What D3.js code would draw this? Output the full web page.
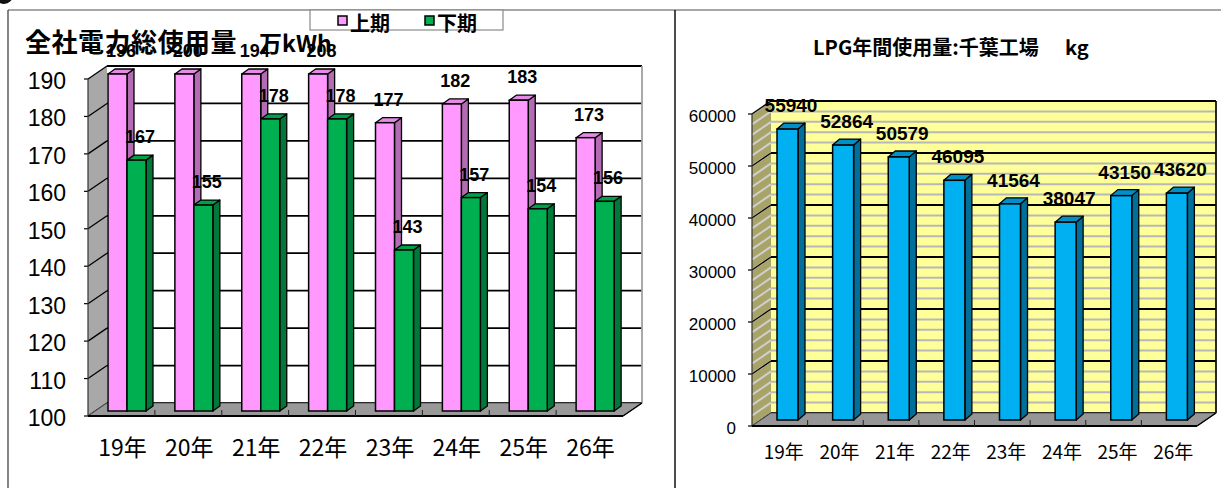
<!DOCTYPE html>
<html>
<head>
<meta charset="utf-8">
<script src="https://cdn.jsdelivr.net/npm/d3@7"></script>
<style>
  html, body { margin: 0; padding: 0; background: #fff; }
  svg { display: block; }
</style>
</head>
<body>
<svg id="chart" width="1221" height="488"></svg>
<script>
// ---- data ----
const years = ["19年", "20年", "21年", "22年", "23年", "24年", "25年", "26年"];
const powerFirstHalf = [196, 200, 194, 208, 177, 182, 183, 173];   // 上期
const powerSecondHalf = [167, 155, 178, 178, 143, 157, 154, 156];  // 下期
const powerTicks = [100, 110, 120, 130, 140, 150, 160, 170, 180, 190];
const lpgUsage = [55940, 52864, 50579, 46095, 41564, 38047, 43150, 43620];
const lpgTicks = [0, 10000, 20000, 30000, 40000, 50000, 60000];
const lpgMinorTicks = d3.range(0, 60001, 2000);

const svg = d3.select("#chart");
const CJK = "'Noto Sans CJK JP', 'Noto Sans', sans-serif";
const LAT = "'Liberation Sans', Arial, sans-serif";

// ---- frame ----
svg.append("circle").attr("cx", 4).attr("cy", -5).attr("r", 9).attr("fill", "#111");
svg.append("line").attr("x1", 8).attr("x2", 1221).attr("y1", 10).attr("y2", 10)
  .attr("stroke", "#8a8a8a").attr("stroke-width", 1.5);
svg.append("line").attr("x1", 8).attr("x2", 8).attr("y1", 10).attr("y2", 488)
  .attr("stroke", "#333").attr("stroke-width", 1.2);
svg.append("line").attr("x1", 675).attr("x2", 675).attr("y1", 10).attr("y2", 488)
  .attr("stroke", "#111").attr("stroke-width", 1.5);

// draws one 3D column: front face, right side, top
function column(g, x, yTop, yBot, w, dx, dy, c) {
  const pts = a => a.map(p => p.join(",")).join(" ");
  g.append("polygon")
    .attr("points", pts([[x + w, yTop], [x + w + dx, yTop + dy], [x + w + dx, yBot + dy], [x + w, yBot]]))
    .attr("fill", c.side).attr("stroke", "#000").attr("stroke-width", 1.3).attr("stroke-linejoin", "round");
  g.append("polygon")
    .attr("points", pts([[x, yTop], [x + dx, yTop + dy], [x + w + dx, yTop + dy], [x + w, yTop]]))
    .attr("fill", c.top).attr("stroke", "#000").attr("stroke-width", 1.3).attr("stroke-linejoin", "round");
  g.append("rect").attr("x", x).attr("y", yTop).attr("width", w).attr("height", yBot - yTop)
    .attr("fill", c.front).attr("stroke", "#000").attr("stroke-width", 1.5);
}

// draws walls, floor, gridlines and tick labels of a 3D plot
function plotFrame(g, o) {
  const { x, y, ticks, minor, dx, dy, wallBack, wallSide, sideStripe, floor, gridColor, minorColor, edgeColor, labelSize, labelRight } = o;
  const [xl, xr] = x.range();
  const [yb, yt] = y.range();
  // back wall
  g.append("rect").attr("x", xl + dx).attr("y", yt + dy).attr("width", xr - xl).attr("height", yb - yt)
    .attr("fill", wallBack);
  // side wall
  g.append("polygon")
    .attr("points", [[xl, yt], [xl + dx, yt + dy], [xl + dx, yb + dy], [xl, yb]].map(p => p.join(",")).join(" "))
    .attr("fill", wallSide);
  if (minor) {
    minor.forEach(v => {
      const yy = y(v);
      g.append("line").attr("x1", xl + dx).attr("x2", xr + dx).attr("y1", yy + dy).attr("y2", yy + dy)
        .attr("stroke", minorColor).attr("stroke-width", 2);
      g.append("line").attr("x1", xl).attr("x2", xl + dx).attr("y1", yy).attr("y2", yy + dy)
        .attr("stroke", sideStripe).attr("stroke-width", 2);
    });
  }
  ticks.forEach(v => {
    const yy = y(v);
    g.append("line").attr("x1", xl + dx).attr("x2", xr + dx).attr("y1", yy + dy).attr("y2", yy + dy)
      .attr("stroke", gridColor).attr("stroke-width", 1.8);
    g.append("line").attr("x1", xl).attr("x2", xl + dx).attr("y1", yy).attr("y2", yy + dy)
      .attr("stroke", gridColor).attr("stroke-width", 1.3);
    g.append("line").attr("x1", xl - 4).attr("x2", xl).attr("y1", yy).attr("y2", yy)
      .attr("stroke", "#000").attr("stroke-width", 1.2);
    g.append("text").attr("x", labelRight).attr("y", yy + 2)
      .attr("text-anchor", "end").attr("dominant-baseline", "central")
      .attr("font-family", LAT).attr("font-size", labelSize).attr("fill", "#000")
      .text(v);
  });
  // wall edges
  g.append("line").attr("x1", xr + dx).attr("x2", xr + dx).attr("y1", yt + dy).attr("y2", yb + dy)
    .attr("stroke", edgeColor).attr("stroke-width", 1.8);
  g.append("line").attr("x1", xl).attr("x2", xl).attr("y1", yt).attr("y2", yb)
    .attr("stroke", "#333").attr("stroke-width", 1.2);
  // floor
  g.append("polygon")
    .attr("points", [[xl, yb], [xl + dx, yb + dy], [xr + dx, yb + dy], [xr, yb]].map(p => p.join(",")).join(" "))
    .attr("fill", floor).attr("stroke", "#555").attr("stroke-width", 1);
  g.append("line").attr("x1", xr).attr("x2", xr + dx).attr("y1", yb).attr("y2", yb + dy)
    .attr("stroke", "#000").attr("stroke-width", 1.5);
  g.append("line").attr("x1", xl).attr("x2", xr).attr("y1", yb).attr("y2", yb)
    .attr("stroke", "#000").attr("stroke-width", 2.2);
  x.domain().forEach((d, i) => {
    if (i === 0) return;
    const xx = x(d);
    g.append("line").attr("x1", xx).attr("x2", xx).attr("y1", yb - 6).attr("y2", yb)
      .attr("stroke", "#222").attr("stroke-width", 1);
  });
}

// ================= left: 全社電力総使用量 =================
const gL = svg.append("g");
const xL = d3.scaleBand().domain(years).range([88, 623]);
const yL = d3.scaleLinear().domain([100, 190]).range([416, 79]).clamp(true);

plotFrame(gL, {
  x: xL, y: yL, ticks: powerTicks, minor: null, dx: 19, dy: -13,
  wallBack: "#ffffff", wallSide: "#a8a8a8", floor: "#999999",
  gridColor: "#000", edgeColor: "#a0a0a0", labelSize: 23, labelRight: 66
});

const pink = { front: "#ff99ff", side: "#b36bb3", top: "#e58ae5" };
const green = { front: "#00b050", side: "#00783a", top: "#00a048" };
const bL = { dx: 7, dy: -5, w: 19, off: 20 };
const labelsL = [];
years.forEach((d, i) => {
  const x0 = xL(d) + bL.off;
  const yBot = yL(100) + bL.dy;
  const t1 = yL(powerFirstHalf[i]) + bL.dy;
  const t2 = yL(powerSecondHalf[i]) + bL.dy;
  column(gL, x0, t1, yBot, bL.w, bL.dx, bL.dy, pink);
  column(gL, x0 + bL.w, t2, yBot, bL.w, bL.dx, bL.dy, green);
  labelsL.push({ x: x0 + bL.w / 2 + 3.5, y: t1 - 17, v: powerFirstHalf[i] });
  labelsL.push({ x: x0 + bL.w * 1.5 + 3.5, y: t2 - 17, v: powerSecondHalf[i] });
});

gL.selectAll("text.cat").data(years).join("text")
  .attr("class", "cat")
  .attr("x", d => xL(d) + xL.bandwidth() / 2 + 1)
  .attr("y", 456)
  .attr("text-anchor", "middle")
  .attr("font-family", CJK).attr("font-size", 23).attr("fill", "#000")
  .text(d => d);

// title
gL.append("text").attr("x", 25).attr("y", 52)
  .attr("font-family", CJK).attr("font-size", 26).attr("font-weight", "bold").attr("fill", "#000")
  .attr("letter-spacing", 0.5)
  .text("全社電力総使用量");
gL.append("text").attr("x", 259).attr("y", 52)
  .attr("font-family", CJK).attr("font-size", 23).attr("font-weight", "bold").attr("fill", "#000")
  .text("万kWh");

gL.selectAll("text.val").data(labelsL).join("text")
  .attr("class", "val")
  .attr("x", d => d.x).attr("y", d => d.y)
  .attr("text-anchor", "middle")
  .attr("font-family", LAT).attr("font-size", 18).attr("font-weight", "bold").attr("fill", "#000")
  .text(d => d.v);

// legend
const lg = gL.append("g");
lg.append("rect").attr("x", 310).attr("y", 10).attr("width", 193).attr("height", 20)
  .attr("fill", "#fff").attr("stroke", "#8a8a8a").attr("stroke-width", 1.2);
[["上期", pink.front, 338], ["下期", green.front, 425]].forEach(([name, col, lx]) => {
  lg.append("rect").attr("x", lx).attr("y", 16).attr("width", 9).attr("height", 9)
    .attr("fill", col).attr("stroke", "#000").attr("stroke-width", 1.5);
  lg.append("text").attr("x", lx + 12).attr("y", 31)
    .attr("font-family", CJK).attr("font-size", 20).attr("font-weight", "bold").attr("fill", "#000")
    .text(name);
});

// ================= right: LPG年間使用量 =================
const gR = svg.append("g");
const xR = d3.scaleBand().domain(years).range([752, 1197]);
const yR = d3.scaleLinear().domain([0, 60000]).range([426, 114]);

plotFrame(gR, {
  x: xR, y: yR, ticks: lpgTicks, minor: lpgMinorTicks, dx: 19, dy: -13,
  wallBack: "#ffff99", wallSide: "#a8a467", sideStripe: "#cfcfcf", floor: "#969696",
  gridColor: "#000", minorColor: "#b8b8b8", edgeColor: "#111", labelSize: 17, labelRight: 736
});

const blue = { front: "#00b0f0", side: "#006f9a", top: "#0090c8" };
const bR = { dx: 7, dy: -6, w: 21, off: 25 };
const labelsR = [];
years.forEach((d, i) => {
  const x0 = xR(d) + bR.off;
  const yBot = yR(0) + bR.dy;
  const t = yR(lpgUsage[i]) + bR.dy;
  column(gR, x0, t, yBot, bR.w, bR.dx, bR.dy, blue);
  labelsR.push({ x: x0 + bR.w / 2 + 3.5, y: t - 17, v: lpgUsage[i] });
});

gR.selectAll("text.cat").data(years).join("text")
  .attr("class", "cat")
  .attr("x", d => xR(d) + xR.bandwidth() / 2 + 4)
  .attr("y", 459)
  .attr("text-anchor", "middle")
  .attr("font-family", CJK).attr("font-size", 19).attr("fill", "#000")
  .text(d => d);

gR.selectAll("text.val").data(labelsR).join("text")
  .attr("class", "val")
  .attr("x", d => d.x).attr("y", d => d.y)
  .attr("text-anchor", "middle")
  .attr("font-family", LAT).attr("font-size", 19).attr("font-weight", "bold").attr("fill", "#000")
  .text(d => d.v);

gR.append("text").attr("x", 813).attr("y", 55)
  .attr("font-family", CJK).attr("font-size", 20).attr("font-weight", "bold").attr("fill", "#000")
  .text("LPG年間使用量:千葉工場");
gR.append("text").attr("x", 1065).attr("y", 55)
  .attr("font-family", CJK).attr("font-size", 20).attr("font-weight", "bold").attr("fill", "#000")
  .text("kg");
</script>
</body>
</html>
